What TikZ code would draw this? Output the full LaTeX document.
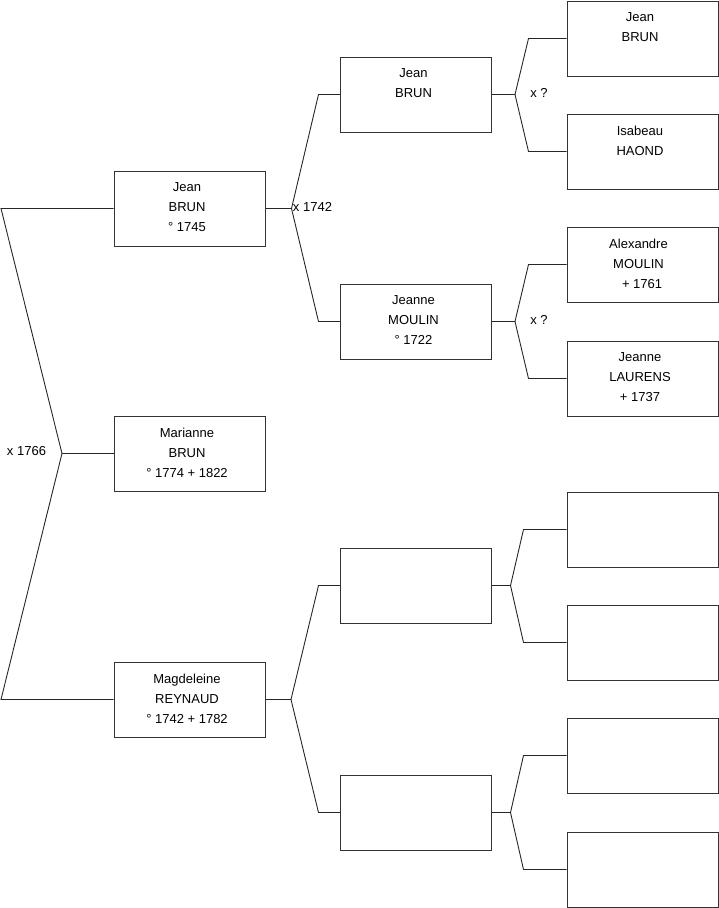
\documentclass[tikz,border=0pt]{standalone}
\usepackage{fontspec}
\setmainfont{Liberation Sans}
\begin{document}
\begin{tikzpicture}[x=1pt,y=-1pt,
  pbox/.style={draw=black!80, line width=1pt, minimum width=151pt, minimum height=75pt, inner sep=0pt},
  ptext/.style={anchor=north, align=center, inner sep=0pt, font=\fontsize{13}{20}\selectfont},
  conn/.style={draw=black!85, line width=0.9pt},
  mlabel/.style={font=\fontsize{13}{20}\selectfont, inner sep=0pt}]
\useasboundingbox (0,0) rectangle (719,908);
% generation 1
\node[pbox] (p1) at (189.5,208.5) {};
\node[pbox] (p2) at (189.5,453.5) {};
\node[pbox] (p3) at (189.5,699.5) {};
% generation 2
\node[pbox] (q1) at (416,94.5) {};
\node[pbox] (q2) at (416,321.5) {};
\node[pbox] (q3) at (416,585.5) {};
\node[pbox] (q4) at (416,812.5) {};
% generation 3
\node[pbox] (r1) at (642.5,38.5) {};
\node[pbox] (r2) at (642.5,151.5) {};
\node[pbox] (r3) at (642.5,264.5) {};
\node[pbox] (r4) at (642.5,378.5) {};
\node[pbox] (r5) at (642.5,529.5) {};
\node[pbox] (r6) at (642.5,642.5) {};
\node[pbox] (r7) at (642.5,755.5) {};
\node[pbox] (r8) at (642.5,869.5) {};
% texts
\node[ptext] (tp1) at ([xshift=-2.5pt,yshift=-12pt]p1.north) {Jean\\BRUN\\° 1745};
\node[ptext] (tp2) at ([xshift=-2.5pt,yshift=-12pt]p2.north) {Marianne\\BRUN\\° 1774 + 1822};
\node[ptext] (tp3) at ([xshift=-2.5pt,yshift=-12pt]p3.north) {Magdeleine\\REYNAUD\\° 1742 + 1782};
\node[ptext] (tq1) at ([xshift=-2.5pt,yshift=-12pt]q1.north) {Jean\\BRUN};
\node[ptext] (tq2) at ([xshift=-2.5pt,yshift=-12pt]q2.north) {Jeanne\\MOULIN\\° 1722};
\node[ptext] (tr1) at ([xshift=-2.5pt,yshift=-12pt]r1.north) {Jean\\BRUN};
\node[ptext] (tr2) at ([xshift=-2.5pt,yshift=-12pt]r2.north) {Isabeau\\HAOND};
\node[ptext] (tr3) at ([xshift=-4pt,yshift=-12pt]r3.north) {Alexandre\\MOULIN\\\ \ + 1761};
\node[ptext] (tr4) at ([xshift=-2.5pt,yshift=-12pt]r4.north) {Jeanne\\LAURENS\\+ 1737};
% junction coordinates
\coordinate (a1) at (1,208.5);
\coordinate (a2) at (1,699.5);
\coordinate (j0) at (62,453.5);
\coordinate (j1) at (291.5,208.5);
\coordinate (j1a) at (318.5,94.5);
\coordinate (j1b) at (318.5,321.5);
\coordinate (j2) at (291,699.5);
\coordinate (j2a) at (318.5,585.5);
\coordinate (j2b) at (318.5,812.5);
\coordinate (k1) at (515,94.5);
\coordinate (k1a) at (528.5,38.5);
\coordinate (k1b) at (528.5,151.5);
\coordinate (k2) at (515,321.5);
\coordinate (k2a) at (528.5,264.5);
\coordinate (k2b) at (528.5,378.5);
\coordinate (k3) at (510.5,585.5);
\coordinate (k3a) at (523.5,529.5);
\coordinate (k3b) at (523.5,642.5);
\coordinate (k4) at (510.5,812.5);
\coordinate (k4a) at (523.5,755.5);
\coordinate (k4b) at (523.5,869.5);
% connectors
\draw[conn] (p1.west) -- (a1) -- (j0) -- (a2) -- (p3.west);
\draw[conn] (j0) -- (p2.west);
\draw[conn] (p1.east) -- (j1);
\draw[conn] (q1.west) -- (j1a) -- (j1) -- (j1b) -- (q2.west);
\draw[conn] (p3.east) -- (j2);
\draw[conn] (q3.west) -- (j2a) -- (j2) -- (j2b) -- (q4.west);
\draw[conn] (q1.east) -- (k1);
\draw[conn] (r1.west) -- (k1a) -- (k1) -- (k1b) -- (r2.west);
\draw[conn] (q2.east) -- (k2);
\draw[conn] (r3.west) -- (k2a) -- (k2) -- (k2b) -- (r4.west);
\draw[conn] (q3.east) -- (k3);
\draw[conn] (r5.west) -- (k3a) -- (k3) -- (k3b) -- (r6.west);
\draw[conn] (q4.east) -- (k4);
\draw[conn] (r7.west) -- (k4a) -- (k4) -- (k4b) -- (r8.west);
% marriage labels
\node[mlabel] (m0) at (26.5,451.5) {x 1766};
\node[mlabel] (m1) at (312.5,207) {x 1742};
\node[mlabel] (m2) at (539,92.5) {x ?};
\node[mlabel] (m3) at (539,320) {x ?};
\end{tikzpicture}
\end{document}
